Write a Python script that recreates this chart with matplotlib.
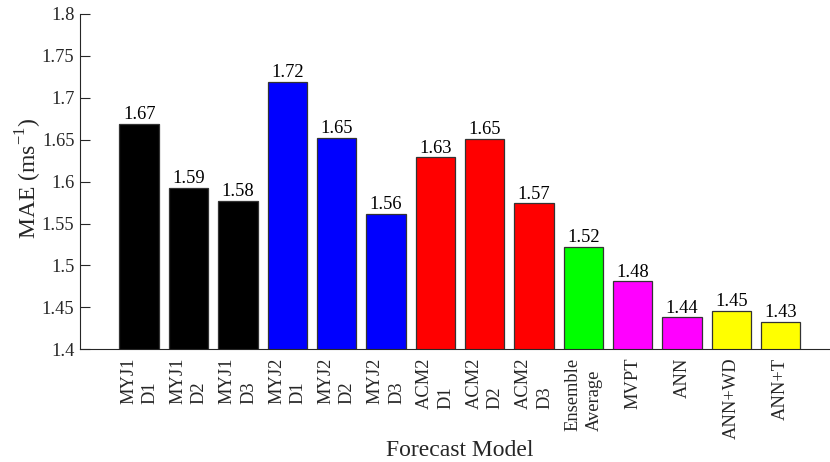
import matplotlib.pyplot as plt

plt.rcParams['font.family'] = ['Liberation Serif', 'DejaVu Serif']
plt.rcParams['mathtext.fontset'] = 'custom'
plt.rcParams['mathtext.rm'] = 'Liberation Serif'

labels = ['MYJ1\nD1', 'MYJ1\nD2', 'MYJ1\nD3', 'MYJ2\nD1', 'MYJ2\nD2', 'MYJ2\nD3',
          'ACM2\nD1', 'ACM2\nD2', 'ACM2\nD3', 'Ensemble\nAverage', 'MVPT', 'ANN',
          'ANN+WD', 'ANN+T']
mae = [1.669, 1.593, 1.577, 1.719, 1.652, 1.562, 1.629, 1.651, 1.574,
       1.522, 1.481, 1.438, 1.446, 1.433]
colors = ['black', 'black', 'black', 'blue', 'blue', 'blue', 'red', 'red', 'red',
          '#00ff00', 'magenta', 'magenta', 'yellow', 'yellow']

txt = '#262626'
fig = plt.figure(figsize=(8.3, 4.62), dpi=100)
ax = fig.add_axes([80 / 830, (462 - 349.3) / 462, 1 - 80 / 830, (349.3 - 14) / 462])

x = list(range(1, len(mae) + 1))
ax.bar(x, mae, width=0.8, color=colors, edgecolor='#333333', linewidth=0.9, zorder=2)

for xi, v in zip(x, mae):
    ax.text(xi, v + 0.001, f'{v:.2f}', ha='center', va='bottom', fontsize=13.3, color='black')

ax.set_ylim(1.4, 1.8)
ax.set_xlim(-0.2, 15.0)
ax.set_yticks([1.4, 1.45, 1.5, 1.55, 1.6, 1.65, 1.7, 1.75, 1.8])
ax.set_yticklabels(['1.4', '1.45', '1.5', '1.55', '1.6', '1.65', '1.7', '1.75', '1.8'])
ax.set_xticks(x)
ax.set_xticklabels(labels, rotation=90, va='top', ha='center',
                   multialignment='left', linespacing=1.35)
ax.tick_params(axis='x', length=0, pad=6, labelsize=13.3, colors=txt)
ax.tick_params(axis='y', direction='in', length=7, labelsize=13.3, colors=txt, pad=4)

ax.spines['top'].set_visible(False)
ax.spines['right'].set_visible(False)
ax.spines['left'].set_color(txt)
ax.spines['bottom'].set_color(txt)

fig.text(29 / 830, (462 - 178) / 462, 'MAE (ms$^{-1}$)', rotation=90,
         ha='center', va='center', fontsize=17, color=txt)
fig.text(460 / 830, (462 - 456) / 462, 'Forecast Model', ha='center', va='baseline',
         fontsize=17, color=txt)

fig.savefig('out.png', dpi=100)
